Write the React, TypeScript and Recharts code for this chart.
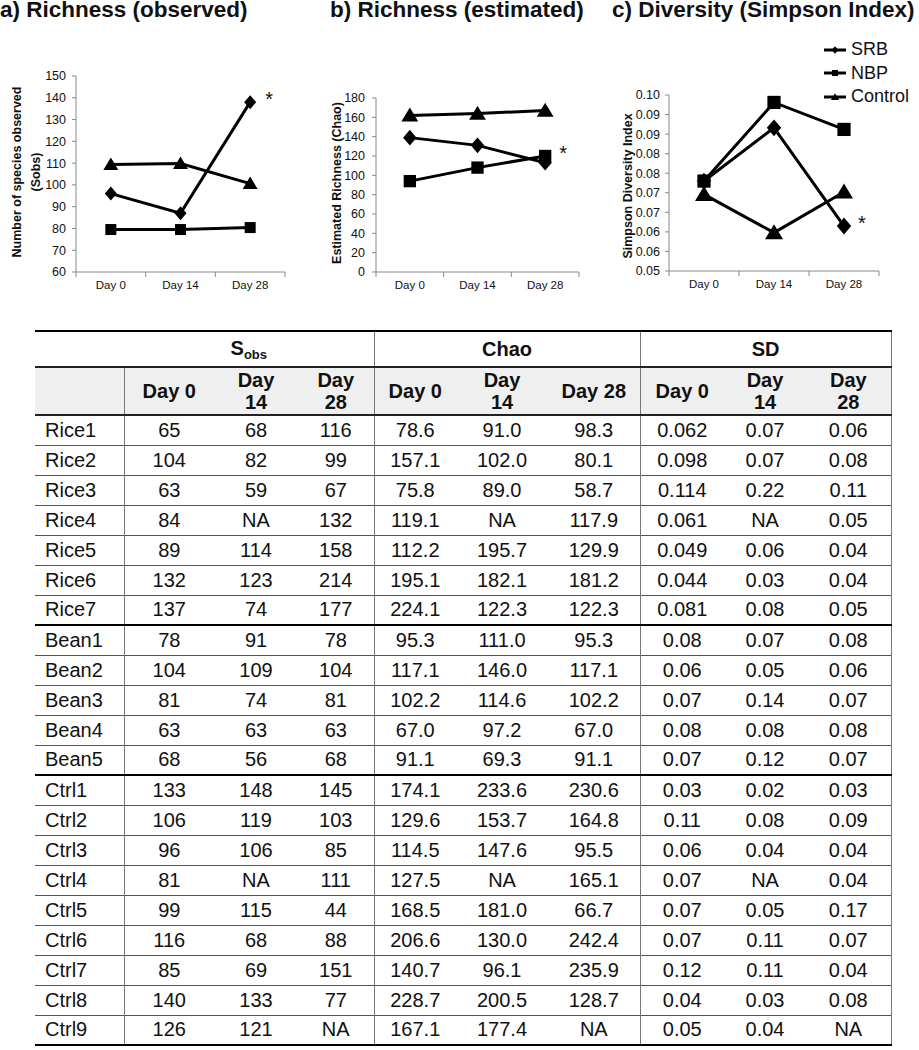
import React from "react";
import { LineChart, Line, XAxis, YAxis, Legend, LabelList, Label } from "recharts";

const FONT = "'Liberation Sans', Arial, Helvetica, sans-serif";

// chart values
const days = ["Day 0", "Day 14", "Day 28"];
const seriesNames = ["SRB", "NBP", "Control"];
const seriesShapes = ["diamond", "square", "triangle"];

const sobsSRB = [96, 87, 138];
const sobsNBP = [79.5, 79.5, 80.4];
const sobsControl = [109.4, 109.8, 100.6];

const chaoSRB = [139, 131, 113];
const chaoNBP = [94, 108, 120];
const chaoControl = [162, 164, 167];

const simpsonSRB = [0.078, 0.0916, 0.0665];
const simpsonNBP = [0.078, 0.0981, 0.0912];
const simpsonControl = [0.0746, 0.0648, 0.0752];

const sobsTicks = [60, 70, 80, 90, 100, 110, 120, 130, 140, 150];
const chaoTicks = [0, 20, 40, 60, 80, 100, 120, 140, 160, 180];
const simpsonTicks = [0.055, 0.06, 0.065, 0.07, 0.075, 0.08, 0.085, 0.09, 0.095, 0.1];
const simpsonTickLabels = ["0.05", "0.06", "0.06", "0.07", "0.07", "0.08", "0.08", "0.09", "0.09", "0.10"];

// table values
const sampleNames = [
  "Rice1", "Rice2", "Rice3", "Rice4", "Rice5", "Rice6", "Rice7",
  "Bean1", "Bean2", "Bean3", "Bean4", "Bean5",
  "Ctrl1", "Ctrl2", "Ctrl3", "Ctrl4", "Ctrl5", "Ctrl6", "Ctrl7", "Ctrl8", "Ctrl9",
];
const groupStarts = [7, 12];
const sobsDay0 = ["65", "104", "63", "84", "89", "132", "137", "78", "104", "81", "63", "68", "133", "106", "96", "81", "99", "116", "85", "140", "126"];
const sobsDay14 = ["68", "82", "59", "NA", "114", "123", "74", "91", "109", "74", "63", "56", "148", "119", "106", "NA", "115", "68", "69", "133", "121"];
const sobsDay28 = ["116", "99", "67", "132", "158", "214", "177", "78", "104", "81", "63", "68", "145", "103", "85", "111", "44", "88", "151", "77", "NA"];
const chaoDay0 = ["78.6", "157.1", "75.8", "119.1", "112.2", "195.1", "224.1", "95.3", "117.1", "102.2", "67.0", "91.1", "174.1", "129.6", "114.5", "127.5", "168.5", "206.6", "140.7", "228.7", "167.1"];
const chaoDay14 = ["91.0", "102.0", "89.0", "NA", "195.7", "182.1", "122.3", "111.0", "146.0", "114.6", "97.2", "69.3", "233.6", "153.7", "147.6", "NA", "181.0", "130.0", "96.1", "200.5", "177.4"];
const chaoDay28 = ["98.3", "80.1", "58.7", "117.9", "129.9", "181.2", "122.3", "95.3", "117.1", "102.2", "67.0", "91.1", "230.6", "164.8", "95.5", "165.1", "66.7", "242.4", "235.9", "128.7", "NA"];
const sdDay0 = ["0.062", "0.098", "0.114", "0.061", "0.049", "0.044", "0.081", "0.08", "0.06", "0.07", "0.08", "0.07", "0.03", "0.11", "0.06", "0.07", "0.07", "0.07", "0.12", "0.04", "0.05"];
const sdDay14 = ["0.07", "0.07", "0.22", "NA", "0.06", "0.03", "0.08", "0.07", "0.05", "0.14", "0.08", "0.12", "0.02", "0.08", "0.04", "NA", "0.05", "0.11", "0.11", "0.03", "0.04"];
const sdDay28 = ["0.06", "0.08", "0.11", "0.05", "0.04", "0.04", "0.05", "0.08", "0.06", "0.07", "0.08", "0.07", "0.03", "0.09", "0.04", "0.04", "0.17", "0.07", "0.04", "0.08", "NA"];

const sobsHeaders = ["Day 0", "Day\n14", "Day\n28"];
const chaoHeaders = ["Day 0", "Day\n14", "Day 28"];
const sdHeaders = ["Day 0", "Day\n14", "Day\n28"];

const AXIS = "#888";

function Marker({ shape, cx, cy, s }: { shape: string; cx?: number; cy?: number; s: number }) {
  if (cx == null || cy == null) return null;
  if (shape === "diamond") {
    return <polygon points={`${cx},${cy - 7 * s} ${cx + 6 * s},${cy} ${cx},${cy + 7 * s} ${cx - 6 * s},${cy}`} fill="#000" />;
  }
  if (shape === "square") {
    return <rect x={cx - 5.5 * s} y={cy - 5.5 * s} width={11 * s} height={11 * s} fill="#000" />;
  }
  return <polygon points={`${cx},${cy - 7 * s} ${cx + 7.5 * s},${cy + 5.5 * s} ${cx - 7.5 * s},${cy + 5.5 * s}`} fill="#000" />;
}

function makeXTick(band: number) {
  return (p: any) => {
    const { x, y, payload, index } = p;
    return (
      <g>
        <line x1={x - band / 2} x2={x - band / 2} y1={y} y2={y + 5} stroke={AXIS} />
        {index === days.length - 1 && <line x1={x + band / 2} x2={x + band / 2} y1={y} y2={y + 5} stroke={AXIS} />}
        <text x={x} y={y + 17} textAnchor="middle" fontSize={11.5} fontFamily={FONT} fill="#111">
          {payload.value}
        </text>
      </g>
    );
  };
}

function LegendBox() {
  return (
    <div style={{ fontFamily: FONT, fontSize: 18, color: "#111" }}>
      {seriesNames.map((n, i) => (
        <div key={n} style={{ display: "flex", alignItems: "center", height: 23.5 }}>
          <svg width={24} height={14}>
            <line x1={1} x2={23} y1={7} y2={7} stroke="#000" strokeWidth={3} />
            <Marker shape={seriesShapes[i]} cx={12} cy={7} s={0.55} />
          </svg>
          <span style={{ marginLeft: 4 }}>{n}</span>
        </div>
      ))}
    </div>
  );
}

type PanelProps = {
  left: number;
  width: number;
  height: number;
  margin: { top: number; right: number; bottom: number; left: number };
  yWidth: number;
  tickGap: number;
  values: number[][];
  ticks: number[];
  domain: [number, number];
  tickLabels?: string[];
  yLabels: { text: string; x: number; y: number }[];
  starSeries: number;
  star: { dx: number; dy: number };
  s: number;
  legend?: boolean;
};

function Panel(props: PanelProps) {
  const { left, width, height, margin, yWidth, tickGap, values, ticks, domain, tickLabels, yLabels, starSeries, star, s, legend } = props;
  const data = days.map((d, i) => ({
    day: d,
    SRB: values[0][i],
    NBP: values[1][i],
    Control: values[2][i],
  }));
  const band = (width - margin.left - margin.right - yWidth) / days.length;
  return (
    <div style={{ position: "absolute", left, top: 0 }}>
      <LineChart width={width} height={height} data={data} margin={margin}>
        <XAxis
          dataKey="day"
          scale="band"
          height={20}
          stroke={AXIS}
          tickLine={false}
          tickSize={0}
          tickMargin={0}
          tick={makeXTick(band)}
          interval={0}
        />
        <YAxis
          width={yWidth}
          domain={domain}
          ticks={ticks}
          interval={0}
          stroke={AXIS}
          tickSize={4}
          tickMargin={tickGap}
          tick={{ fontSize: 12.5, fill: "#111", fontFamily: FONT }}
          tickFormatter={(v: number, i: number) => (tickLabels ? tickLabels[i] : String(v))}
        >
          <Label
            content={() => (
              <g>
                {yLabels.map((l) => (
                  <text
                    key={l.text}
                    transform={`translate(${l.x},${l.y}) rotate(-90)`}
                    textAnchor="middle"
                    dominantBaseline="central"
                    fontSize={12.5}
                    fontWeight="bold"
                    fontFamily={FONT}
                    fill="#111"
                  >
                    {l.text}
                  </text>
                ))}
              </g>
            )}
          />
        </YAxis>
        {legend && (
          <Legend
            layout="horizontal"
            verticalAlign="middle"
            align="center"
            wrapperStyle={{ position: "absolute", top: 38, left: 213, width: 100 }}
            content={() => <LegendBox />}
          />
        )}
        {seriesNames.map((n, si) => (
          <Line
            key={n}
            dataKey={n}
            name={n}
            stroke="#000"
            strokeWidth={3}
            isAnimationActive={false}
            activeDot={false}
            dot={(p: any) => <Marker key={`${n}-${p.index}`} shape={seriesShapes[si]} cx={p.cx} cy={p.cy} s={s} />}
          >
            {si === starSeries && (
              <LabelList
                dataKey={n}
                content={(p: any) =>
                  p.index === days.length - 1 ? (
                    <text x={p.x + star.dx} y={p.y + star.dy} textAnchor="middle" fontSize={20} fontFamily={FONT} fill="#111">
                      *
                    </text>
                  ) : null
                }
              />
            )}
          </Line>
        ))}
      </LineChart>
    </div>
  );
}

const titleStyle: React.CSSProperties = {
  position: "absolute",
  top: 0,
  fontFamily: FONT,
  fontWeight: "bold",
  fontSize: 22.5,
  lineHeight: "20px",
  color: "#111",
  whiteSpace: "nowrap",
};

const colWidths = [89, 90, 84, 76, 82, 92, 92, 84, 82, 85];
const groupEnds = [3, 6, 9];

function DataTable() {
  const cols = [sobsDay0, sobsDay14, sobsDay28, chaoDay0, chaoDay14, chaoDay28, sdDay0, sdDay14, sdDay28];
  const headers = [...sobsHeaders, ...chaoHeaders, ...sdHeaders];
  const vline = "1.5px solid #777";
  const cell = (ci: number): React.CSSProperties => ({
    padding: 0,
    textAlign: "center",
    borderRight: groupEnds.includes(ci) ? vline : undefined,
  });
  return (
    <table
      style={{
        position: "absolute",
        left: 35,
        top: 330,
        width: 856,
        tableLayout: "fixed",
        borderCollapse: "collapse",
        fontFamily: FONT,
        fontSize: 20,
        color: "#111",
      }}
    >
      <colgroup>
        {colWidths.map((w, i) => (
          <col key={i} style={{ width: w }} />
        ))}
      </colgroup>
      <tbody>
        <tr style={{ height: 36, borderTop: "2px solid #000", borderBottom: "2px solid #222", fontWeight: "bold" }}>
          <td style={{ padding: 0 }} />
          <td colSpan={3} style={{ ...cell(3), textAlign: "center" }}>
            S<sub style={{ fontSize: 13, verticalAlign: "-4px" }}>obs</sub>
          </td>
          <td colSpan={3} style={cell(6)}>Chao</td>
          <td colSpan={3} style={cell(9)}>SD</td>
        </tr>
        <tr style={{ height: 48, background: "#efefef", borderBottom: "2px solid #222", fontWeight: "bold" }}>
          <td style={{ padding: 0, borderRight: vline }} />
          {headers.map((h, i) => (
            <td key={i} style={{ ...cell(i + 1), whiteSpace: "pre-line", lineHeight: "22px" }}>
              {h}
            </td>
          ))}
        </tr>
        {sampleNames.map((name, r) => {
          const group = groupStarts.includes(r);
          const last = r === sampleNames.length - 1;
          return (
            <tr
              key={name}
              style={{
                height: 30,
                borderTop: group ? "2px solid #000" : "1px solid #555",
                borderBottom: last ? "2px solid #000" : undefined,
              }}
            >
              <td style={{ padding: "0 0 0 10px", borderRight: vline }}>{name}</td>
              {cols.map((c, ci) => (
                <td key={ci} style={cell(ci + 1)}>
                  {c[r]}
                </td>
              ))}
            </tr>
          );
        })}
      </tbody>
    </table>
  );
}

export default function App() {
  return (
    <div style={{ position: "absolute", left: 0, top: 0, width: 919, height: 1050, background: "#fff", overflow: "hidden" }}>
      <div style={{ ...titleStyle, left: 0 }}>a) Richness (observed)</div>
      <div style={{ ...titleStyle, left: 330 }}>b) Richness (estimated)</div>
      <div style={{ ...titleStyle, left: 612 }}>c) Diversity (Simpson Index)</div>

      <Panel
        left={0}
        width={305}
        height={300}
        margin={{ top: 76, right: 20, bottom: 8, left: 46 }}
        yWidth={30}
        tickGap={6}
        values={[sobsSRB, sobsNBP, sobsControl]}
        ticks={sobsTicks}
        domain={[60, 150]}
        yLabels={[
          { text: "Number of species observed", x: 17, y: 172 },
          { text: "(Sobs)", x: 36, y: 172 },
        ]}
        starSeries={0}
        star={{ dx: 19, dy: 4 }}
        s={1}
      />
      <Panel
        left={300}
        width={300}
        height={300}
        margin={{ top: 98, right: 21, bottom: 8, left: 46 }}
        yWidth={30}
        tickGap={7}
        values={[chaoSRB, chaoNBP, chaoControl]}
        ticks={chaoTicks}
        domain={[0, 180]}
        yLabels={[{ text: "Estimated Richness (Chao)", x: 37, y: 183 }]}
        starSeries={1}
        star={{ dx: 18, dy: 4 }}
        s={1.12}
      />
      <Panel
        left={610}
        width={309}
        height={300}
        margin={{ top: 95, right: 40, bottom: 9, left: 19 }}
        yWidth={40}
        tickGap={5}
        values={[simpsonSRB, simpsonNBP, simpsonControl]}
        ticks={simpsonTicks}
        domain={[0.055, 0.1]}
        tickLabels={simpsonTickLabels}
        yLabels={[{ text: "Simpson Diversity Index", x: 18, y: 186 }]}
        starSeries={0}
        star={{ dx: 18, dy: 4 }}
        s={1.2}
        legend
      />

      <DataTable />
    </div>
  );
}
